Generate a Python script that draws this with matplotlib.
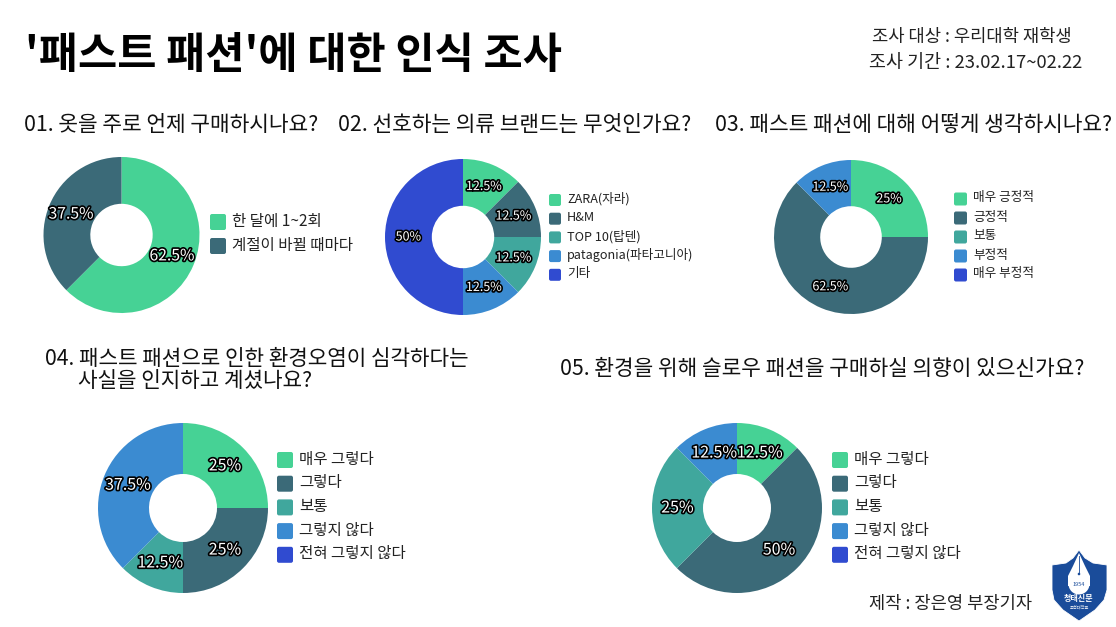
import matplotlib
matplotlib.use('Agg')
import matplotlib.pyplot as plt
import matplotlib.patheffects as pe
from matplotlib.patches import FancyBboxPatch, Polygon, Circle

plt.rcParams['font.family'] = ['Noto Sans CJK KR', 'DejaVu Sans']

W, H = 1116, 627
colors = ['#46d295', '#3b6a78', '#40a79d', '#3b8bd1', '#304bd0']

q1_title = '01. 옷을 주로 언제 구매하시나요?'
q1_labels = ['한 달에 1~2회', '계절이 바뀔 때마다']
q1_values = [62.5, 37.5]

q2_title = '02. 선호하는 의류 브랜드는 무엇인가요?'
q2_labels = ['ZARA(자라)', 'H&M', 'TOP 10(탑텐)', 'patagonia(파타고니아)', '기타']
q2_values = [12.5, 12.5, 12.5, 12.5, 50]

q3_title = '03. 패스트 패션에 대해 어떻게 생각하시나요?'
q3_labels = ['매우 긍정적', '긍정적', '보통', '부정적', '매우 부정적']
q3_values = [25, 62.5, 0, 12.5, 0]

q4_title = '04. 패스트 패션으로 인한 환경오염이 심각하다는'
q4_title2 = '사실을 인지하고 계셨나요?'
q4_labels = ['매우 그렇다', '그렇다', '보통', '그렇지 않다', '전혀 그렇지 않다']
q4_values = [25, 25, 12.5, 37.5, 0]

q5_title = '05. 환경을 위해 슬로우 패션을 구매하실 의향이 있으신가요?'
q5_labels = ['매우 그렇다', '그렇다', '보통', '그렇지 않다', '전혀 그렇지 않다']
q5_values = [12.5, 50, 25, 12.5, 0]


def fmt(p):
    if p < 0.01:
        return ''
    return '%g%%' % round(p, 1)


def donut(cx, cy, r, values, size):
    ax = fig.add_axes([(cx - r) / W, 1 - (cy + r) / H, 2 * r / W, 2 * r / H])
    wedges, _, pcts = ax.pie(values, colors=colors, startangle=90, counterclock=False,
                             radius=1, autopct=fmt, pctdistance=0.7,
                             wedgeprops={'width': 0.6})
    for t in pcts:
        t.set_fontsize(size)
        t.set_color('white')
        t.set_path_effects([pe.withStroke(linewidth=2.4, foreground='black')])
    ax.set_xlim(-1, 1)
    ax.set_ylim(-1, 1)


def legend(x, y, dy, labels, box, size):
    for i, lab in enumerate(labels):
        yy = y + i * dy
        bg.add_patch(FancyBboxPatch((x + 2, yy - box / 2 + 2), box - 4, box - 4,
                                    boxstyle='round,pad=2', fc=colors[i], ec='none'))
        bg.text(x + box + 6, yy - 1, lab, fontsize=size, va='center', color='#222222')


fig = plt.figure(figsize=(W / 100, H / 100), dpi=100)
bg = fig.add_axes([0, 0, 1, 1])
bg.set_xlim(0, W)
bg.set_ylim(H, 0)
bg.axis('off')

bg.text(25, 55, "'패스트 패션'에 대한 인식 조사", fontsize=30.7, fontweight='bold', va='center', color='black')
bg.text(872, 37, '조사 대상 : 우리대학 재학생', fontsize=12.75, va='center', color='#222222')
bg.text(869, 63, '조사 기간 : 23.02.17~02.22', fontsize=13.3, va='center', color='#222222')

bg.text(24, 125, q1_title, fontsize=15.4, va='center', color='#111111')
bg.text(338, 125, q2_title, fontsize=15.4, va='center', color='#111111')
bg.text(715, 125, q3_title, fontsize=15.4, va='center', color='#111111')
bg.text(45, 359, q4_title, fontsize=15.3, va='center', color='#111111')
bg.text(78, 381, q4_title2, fontsize=15.3, va='center', color='#111111')
bg.text(560, 369, q5_title, fontsize=15.38, va='center', color='#111111')

donut(121.5, 235, 78, q1_values, 11.3)
donut(463, 237, 78, q2_values, 9)
donut(851, 237, 77, q3_values, 9)
donut(183, 508, 85, q4_values, 11.5)
donut(737, 508, 85, q5_values, 11.5)

legend(210, 222, 24, q1_labels, 16, 11.2)
legend(549, 200, 18.7, q2_labels, 12, 9.1)
legend(954, 199, 19, q3_labels, 13, 9.1)
legend(277, 460, 23.7, q4_labels, 16, 11.2)
legend(832, 460, 23.7, q5_labels, 16, 11.2)

bg.text(869, 604, '제작 : 장은영 부장기자', fontsize=12.7, va='center', color='#222222')

# school paper logo
bg.add_patch(Polygon([(1079, 550), (1085, 558), (1093, 563), (1107, 565), (1107, 590), (1104, 600),
                      (1095, 610), (1079, 621), (1063, 610), (1054, 600), (1052, 590), (1052, 565),
                      (1066, 563), (1073, 558)], closed=True, fc='#1a4c9a', ec='white', lw=0.6))
bg.add_patch(Polygon([(1079, 553), (1085, 566), (1090, 576), (1090, 586), (1068, 586), (1068, 576),
                      (1073, 566)], closed=True, fc='white', ec='none'))
bg.add_patch(Circle((1079, 584), 10.5, fc='white', ec='none'))
bg.plot([1079, 1079], [556, 573], color='#1a4c9a', lw=0.6)
bg.add_patch(Circle((1079, 574), 1.3, fc='#1a4c9a', ec='none'))
bg.text(1079, 585, '1954', fontsize=4, ha='center', va='center', color='#1a4c9a')
bg.text(1079, 598.5, '청태신문', fontsize=5.8, fontweight='bold', ha='center', va='center', color='white')
bg.text(1079, 607, '조선대학교', fontsize=3, ha='center', va='center', color='white')
bg.set_xlim(0, W)
bg.set_ylim(H, 0)

fig.savefig('out.png', dpi=100)
